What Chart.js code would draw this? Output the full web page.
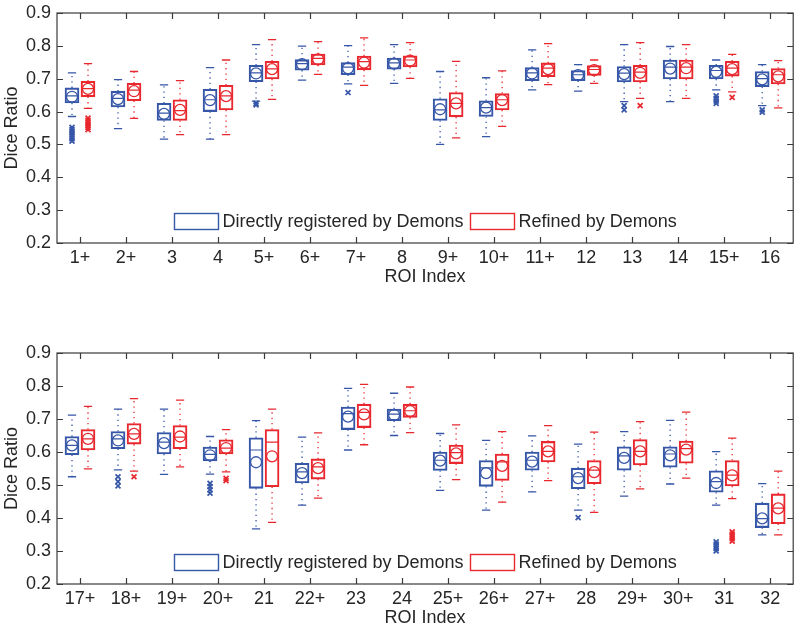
<!DOCTYPE html>
<html>
<head>
<meta charset="utf-8">
<script src="https://cdn.jsdelivr.net/npm/chart.js@4/dist/chart.umd.min.js"></script>
<style>
  html, body { margin: 0; padding: 0; background: #fff; }
  #wrap { position: relative; width: 800px; height: 630px; }
  canvas { position: absolute; left: 0; }
  #top { top: 0; }
  #bottom { top: 320px; }
</style>
</head>
<body>
<div id="wrap">
  <canvas id="top" width="800" height="300"></canvas>
  <canvas id="bottom" width="800" height="310"></canvas>
</div>
<script>
// ROI labels, first panel 1..16, second 17..32
const roiLabels = ["1+", "2+", "3", "4", "5+", "6+", "7+", "8", "9+", "10+", "11+", "12", "13", "14", "15+", "16",
  "17+", "18+", "19+", "20+", "21", "22+", "23", "24", "25+", "26+", "27+", "28", "29+", "30+", "31", "32"];
const yTickValues = [0.2, 0.3, 0.4, 0.5, 0.6, 0.7, 0.8, 0.9];
const seriesNames = ["Directly registered by Demons", "Refined by Demons"];

// Directly registered by Demons (blue)
const dirMin = [0.585, 0.548, 0.516, 0.516, 0.632, 0.696, 0.684, 0.686, 0.500, 0.524, 0.666, 0.662, 0.630, 0.630, 0.666, 0.618,
  0.525, 0.546, 0.532, 0.533, 0.367, 0.439, 0.606, 0.650, 0.484, 0.424, 0.479, 0.424, 0.466, 0.503, 0.439, 0.349];
const dirQ1 = [0.626, 0.614, 0.573, 0.600, 0.691, 0.726, 0.712, 0.729, 0.573, 0.585, 0.694, 0.694, 0.690, 0.699, 0.699, 0.676,
  0.592, 0.610, 0.594, 0.573, 0.490, 0.506, 0.668, 0.695, 0.544, 0.496, 0.545, 0.489, 0.545, 0.554, 0.478, 0.371];
const dirMed = [0.648, 0.640, 0.595, 0.636, 0.718, 0.746, 0.735, 0.748, 0.605, 0.612, 0.718, 0.712, 0.717, 0.735, 0.725, 0.700,
  0.620, 0.640, 0.630, 0.593, 0.606, 0.540, 0.716, 0.715, 0.575, 0.552, 0.575, 0.525, 0.588, 0.594, 0.510, 0.398];
const dirQ3 = [0.672, 0.662, 0.625, 0.668, 0.741, 0.758, 0.749, 0.763, 0.639, 0.633, 0.734, 0.725, 0.737, 0.757, 0.741, 0.722,
  0.647, 0.662, 0.659, 0.615, 0.643, 0.566, 0.736, 0.730, 0.600, 0.574, 0.600, 0.551, 0.616, 0.616, 0.543, 0.445];
const dirMax = [0.718, 0.697, 0.681, 0.734, 0.804, 0.799, 0.801, 0.804, 0.722, 0.703, 0.788, 0.743, 0.804, 0.798, 0.757, 0.743,
  0.712, 0.730, 0.730, 0.647, 0.695, 0.645, 0.793, 0.778, 0.656, 0.635, 0.649, 0.624, 0.662, 0.696, 0.601, 0.504];
const dirMean = [0.645, 0.638, 0.593, 0.635, 0.716, 0.744, 0.732, 0.746, 0.607, 0.612, 0.716, 0.711, 0.714, 0.731, 0.721, 0.698,
  0.620, 0.635, 0.627, 0.590, 0.569, 0.536, 0.707, 0.712, 0.574, 0.536, 0.571, 0.521, 0.582, 0.590, 0.506, 0.399];
const dirOutliers = [[0.51, 0.517, 0.524, 0.531, 0.538, 0.545, 0.552], [], [], [], [0.62, 0.625], [], [0.658], [], [], [], [], [], [0.618, 0.605], [], [0.648, 0.64, 0.632, 0.625], [0.605, 0.598],
  [], [0.525, 0.51, 0.497], [], [0.505, 0.495, 0.485, 0.475], [], [], [], [], [], [], [], [0.401], [], [], [0.30, 0.307, 0.314, 0.321, 0.328], []];

// Refined by Demons (red)
const refMin = [0.610, 0.579, 0.530, 0.530, 0.637, 0.713, 0.680, 0.701, 0.520, 0.555, 0.682, 0.686, 0.640, 0.640, 0.660, 0.611,
  0.549, 0.542, 0.555, 0.540, 0.387, 0.460, 0.622, 0.659, 0.516, 0.448, 0.513, 0.417, 0.488, 0.521, 0.459, 0.349];
const refQ1 = [0.645, 0.633, 0.573, 0.605, 0.699, 0.742, 0.727, 0.736, 0.584, 0.605, 0.706, 0.710, 0.690, 0.699, 0.708, 0.684,
  0.606, 0.624, 0.610, 0.594, 0.495, 0.518, 0.674, 0.705, 0.565, 0.514, 0.570, 0.504, 0.561, 0.566, 0.497, 0.383];
const refMed = [0.670, 0.665, 0.603, 0.648, 0.730, 0.762, 0.752, 0.757, 0.625, 0.636, 0.732, 0.728, 0.720, 0.735, 0.732, 0.712,
  0.640, 0.655, 0.645, 0.612, 0.630, 0.555, 0.720, 0.725, 0.598, 0.570, 0.602, 0.545, 0.602, 0.610, 0.530, 0.430];
const refQ3 = [0.692, 0.686, 0.636, 0.680, 0.753, 0.775, 0.769, 0.770, 0.658, 0.655, 0.748, 0.740, 0.741, 0.757, 0.753, 0.731,
  0.668, 0.686, 0.680, 0.637, 0.668, 0.579, 0.745, 0.745, 0.621, 0.594, 0.632, 0.574, 0.638, 0.633, 0.574, 0.473];
const refMax = [0.746, 0.722, 0.694, 0.757, 0.819, 0.813, 0.824, 0.810, 0.753, 0.724, 0.807, 0.757, 0.810, 0.804, 0.774, 0.755,
  0.738, 0.762, 0.757, 0.668, 0.730, 0.658, 0.805, 0.797, 0.682, 0.662, 0.680, 0.660, 0.692, 0.721, 0.642, 0.542];
const refMean = [0.669, 0.662, 0.605, 0.647, 0.729, 0.759, 0.749, 0.755, 0.625, 0.635, 0.729, 0.726, 0.718, 0.732, 0.729, 0.707,
  0.640, 0.655, 0.647, 0.612, 0.587, 0.551, 0.714, 0.724, 0.596, 0.558, 0.602, 0.539, 0.602, 0.607, 0.529, 0.429];
const refOutliers = [[0.545, 0.552, 0.559, 0.566, 0.573, 0.58], [], [], [], [], [], [], [], [], [], [], [], [0.618], [], [0.643], [],
  [], [0.525], [], [0.52, 0.513], [], [], [], [], [], [], [], [], [], [], [0.33, 0.337, 0.344, 0.351, 0.358], []];

const blue = '#3656a8';
const red = '#e8282e';
const OFF = 0.174;   // box shift from the tick
const HALF = 0.152;  // half box width, in x units
const CAP = 0.09;    // half whisker cap

Chart.defaults.font.family = '"Liberation Sans", Arial, Helvetica, sans-serif';
Chart.defaults.font.size = 18;
Chart.defaults.color = '#262626';
Chart.defaults.animation = false;

function seriesDatasets(name, color, off, lo, q1, med, q3, hi, mean, outs, from, to) {
  const boxes = [], whisk = [], caps = [], meds = [], means = [], outPts = [];
  for (let i = from; i < to; i++) {
    const x = i - from + 1 + off;
    boxes.push({ x: x, y: [q1[i], q3[i]] });
    whisk.push({ x: x, y: q3[i] }, { x: x, y: hi[i] }, { x: x, y: null },
               { x: x, y: q1[i] }, { x: x, y: lo[i] }, { x: x, y: null });
    caps.push({ x: x - CAP, y: hi[i] }, { x: x + CAP, y: hi[i] }, { x: x, y: null },
              { x: x - CAP, y: lo[i] }, { x: x + CAP, y: lo[i] }, { x: x, y: null });
    meds.push({ x: x - HALF, y: med[i] }, { x: x + HALF, y: med[i] }, { x: x, y: null });
    means.push({ x: x, y: mean[i] });
    outs[i].forEach(v => outPts.push({ x: x, y: v }));
  }
  return [
    { type: 'bar', label: name, data: boxes, borderColor: color, backgroundColor: 'rgba(0,0,0,0)',
      borderWidth: 1.4, borderSkipped: false, barThickness: 14, grouped: false },
    { type: 'line', data: whisk, borderColor: color, borderWidth: 1.3, borderDash: [1.3, 4],
      pointRadius: 0, spanGaps: false, fill: false },
    { type: 'line', data: caps, borderColor: color, borderWidth: 1.3, pointRadius: 0, spanGaps: false, fill: false },
    { type: 'line', data: meds, borderColor: color, borderWidth: 1.2, pointRadius: 0, spanGaps: false, fill: false },
    { type: 'line', data: means, showLine: false, pointStyle: 'circle', pointRadius: 5.5,
      pointBorderWidth: 1.3, pointBorderColor: color, pointBackgroundColor: 'rgba(0,0,0,0)' },
    { type: 'line', data: outPts, showLine: false, pointStyle: 'crossRot', pointRadius: 3.5,
      pointBorderWidth: 1.7, pointBorderColor: color }
  ];
}

// box frame with inward ticks, plus legend inside the plot
const framePlugin = {
  id: 'frame',
  afterDatasetsDraw(chart) {
    const { ctx, chartArea: a, scales: { x, y } } = chart;
    ctx.save();
    ctx.strokeStyle = '#3a3a3a';
    ctx.lineWidth = 1.2;
    ctx.strokeRect(a.left, a.top, a.right - a.left, a.bottom - a.top);
    ctx.beginPath();
    x.ticks.forEach(t => {
      const px = Math.round(x.getPixelForValue(t.value)) + 0.5;
      ctx.moveTo(px, a.bottom); ctx.lineTo(px, a.bottom - 6);
      ctx.moveTo(px, a.top); ctx.lineTo(px, a.top + 6);
    });
    y.ticks.forEach(t => {
      const py = Math.round(y.getPixelForValue(t.value)) + 0.5;
      ctx.moveTo(a.left, py); ctx.lineTo(a.left + 6, py);
      ctx.moveTo(a.right, py); ctx.lineTo(a.right - 6, py);
    });
    ctx.stroke();

    // legend
    const items = chart.data.datasets.filter(d => d.type === 'bar');
    ctx.font = '18px ' + Chart.defaults.font.family;
    const rectW = 44, rectH = 16, gapT = 5, gapItem = 6;
    const widths = items.map(d => ctx.measureText(d.label).width);
    const total = widths.reduce((s, w) => s + rectW + gapT + w, 0) + gapItem * (items.length - 1);
    let cx = (a.left + a.right) / 2 - total / 2;
    const cy = a.bottom - 22;
    ctx.textBaseline = 'middle';
    ctx.textAlign = 'left';
    items.forEach((d, k) => {
      ctx.strokeStyle = d.borderColor;
      ctx.lineWidth = 1.4;
      ctx.strokeRect(Math.round(cx) + 0.5, Math.round(cy - rectH / 2) + 0.5, rectW, rectH);
      ctx.fillStyle = '#262626';
      ctx.fillText(d.label, cx + rectW + gapT, cy + 1);
      cx += rectW + gapT + widths[k] + gapItem;
    });
    ctx.restore();
  }
};

function makePanel(canvasId, from, to, padTop, padBottom) {
  const labels = roiLabels.slice(from, to);
  const datasets = [
    ...seriesDatasets(seriesNames[0], blue, -OFF, dirMin, dirQ1, dirMed, dirQ3, dirMax, dirMean, dirOutliers, from, to),
    ...seriesDatasets(seriesNames[1], red, OFF, refMin, refQ1, refMed, refQ3, refMax, refMean, refOutliers, from, to)
  ];
  return new Chart(document.getElementById(canvasId), {
    type: 'bar',
    data: { datasets: datasets },
    options: {
      responsive: false,
      events: [],
      layout: { padding: { top: padTop, right: 6, bottom: padBottom, left: 0 } },
      plugins: { legend: { display: false }, tooltip: { enabled: false } },
      scales: {
        x: {
          type: 'linear',
          min: 0.5,
          max: labels.length + 0.5,
          offset: false,
          grid: { display: false, drawTicks: false },
          border: { display: false },
          afterBuildTicks: s => { s.ticks = labels.map((_, i) => ({ value: i + 1 })); },
          afterFit: s => { s.height = 46; s.paddingLeft = 0; s.paddingRight = 0; },
          ticks: {
            autoSkip: false,
            maxRotation: 0,
            padding: 4,
            callback: v => labels[Math.round(v) - 1]
          },
          title: { display: true, text: 'ROI Index', padding: { top: 0, bottom: 1 } }
        },
        y: {
          min: 0.2,
          max: 0.9,
          grid: { display: false, drawTicks: false },
          border: { display: false },
          afterBuildTicks: s => { s.ticks = yTickValues.map(v => ({ value: v })); },
          afterFit: s => { s.width = 57; s.paddingTop = 0; s.paddingBottom = 0; },
          ticks: { padding: 6, callback: v => v.toFixed(1) },
          title: { display: true, text: 'Dice Ratio', padding: { top: 1, bottom: 0 } }
        }
      }
    },
    plugins: [framePlugin]
  });
}

makePanel('top', 0, 16, 13, 11);
makePanel('bottom', 16, 32, 33, 0);
</script>
</body>
</html>
